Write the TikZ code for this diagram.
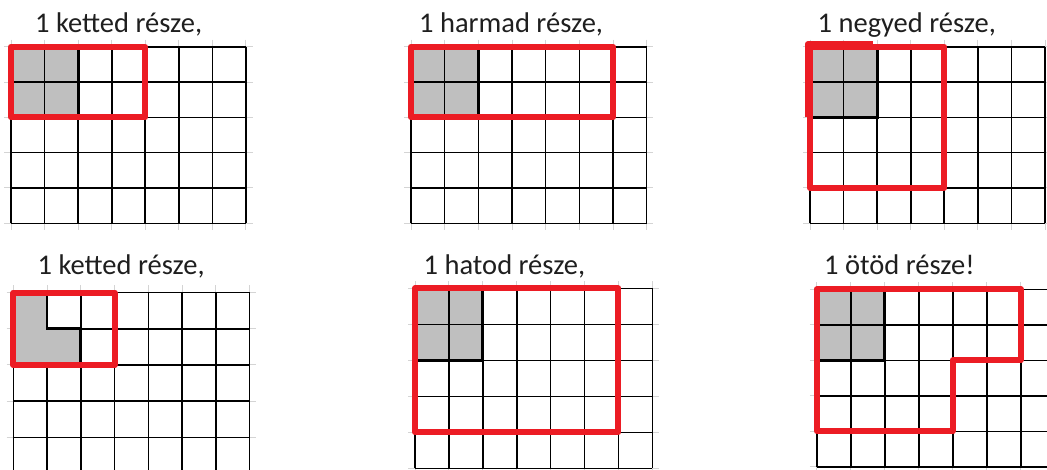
\documentclass[tikz,border=0pt]{standalone}
\usepackage{fontspec}
\setmainfont{Carlito}
\definecolor{mred}{RGB}{236,28,36}
\definecolor{mgray}{RGB}{191,191,191}
\definecolor{faintgray}{RGB}{212,212,212}
\tikzset{
  faint/.style={draw=faintgray, line width=1pt},
  gridline/.style={draw=black, line width=1.6pt},
  partline/.style={draw=black, line width=2.8pt, line cap=rect},
  redline/.style={draw=mred, line width=6pt, line join=round},
  shade/.style={fill=mgray},
  title/.style={anchor=base west, inner sep=0pt, text=black!88, font=\fontsize{28.5}{32}\selectfont},
}
\newcommand\drawcells[2]{%
  \foreach \i in {0,...,#1} {\draw[faint] (\i,-0.2) -- (\i,#2+0.2);}
  \foreach \j in {0,...,#2} {\draw[faint] (-0.2,\j) -- (#1+0.2,\j);}
  \foreach \i in {0,...,#1} {\draw[gridline] (\i,0) -- (\i,#2);}
  \foreach \j in {0,...,#2} {\draw[gridline] (0,\j) -- (#1,\j);}
}
\begin{document}
\begin{tikzpicture}[x=1pt,y=-1pt]
\useasboundingbox (0,0) rectangle (1047,469);
\clip (0,0) rectangle (1047,469);
\fill[white] (0,0) rectangle (1047,469);

% panel 1
\begin{scope}[shift={(11,46.7)},x=33.57pt,y=-35.32pt]
  \fill[shade] (0,0) rectangle (2,2);
  \drawcells{7}{5}
  \draw[partline] (2,0) -- (2,2) -- (0,2);
  \draw[redline] (0,0) rectangle (4,2);
\end{scope}
\node[title] (t1) at (35,32) {1 ketted része,};

% panel 2
\begin{scope}[shift={(411,46.7)},x=33.67pt,y=-35.32pt]
  \fill[shade] (0,0) rectangle (2,2);
  \drawcells{7}{5}
  \draw[partline] (2,0) -- (2,2) -- (0,2);
  \draw[redline] (0,0) rectangle (6,2);
\end{scope}
\node[title] (t2) at (419,32) {1 harmad része,};

% panel 3
\begin{scope}[shift={(810,46.7)},x=33.57pt,y=-35.32pt]
  \fill[shade] (0,0) rectangle (2,2);
  \drawcells{7}{5}
  \draw[partline] (2,0) -- (2,2) -- (0,2);
  \draw[redline] (0,0) rectangle (4,4);
  \draw[redline] (-0.065,2) -- (-0.065,-0.068) -- (1.88,-0.068);
\end{scope}
\node[title] (t3) at (817.5,32.8) {1 negyed része,};

% panel 4
\begin{scope}[shift={(13.3,292.5)},x=33.77pt,y=-36.2pt]
  \drawcells{7}{5}
  \fill[shade] (0,0) -- (1,0) -- (1,1) -- (2,1) -- (2,2) -- (0,2) -- cycle;
  \draw[partline] (1,0) -- (1,1) -- (2,1) -- (2,2);
  \draw[redline] (0,0) rectangle (3,2);
\end{scope}
\node[title] (t4) at (37.5,274.5) {1 ketted része,};

% panel 5
\begin{scope}[shift={(415,288.3)},x=33.9pt,y=-36pt]
  \fill[shade] (0,0) rectangle (2,2);
  \drawcells{7}{5}
  \draw[partline] (2,0) -- (2,2) -- (0,2);
  \draw[redline] (0,0) rectangle (6,4);
\end{scope}
\node[title] (t5) at (423.5,274.5) {1 hatod része,};

% panel 6
\begin{scope}[shift={(816.7,289.3)},x=34pt,y=-35.5pt]
  \fill[shade] (0,0) rectangle (2,2);
  \drawcells{7}{5}
  \draw[partline] (2,0) -- (2,2) -- (0,2);
  \draw[redline] (0,0) -- (6,0) -- (6,2) -- (4,2) -- (4,4) -- (0,4) -- cycle;
\end{scope}
\node[title] (t6) at (824,274.5) {1 ötöd része!};
\end{tikzpicture}
\end{document}
